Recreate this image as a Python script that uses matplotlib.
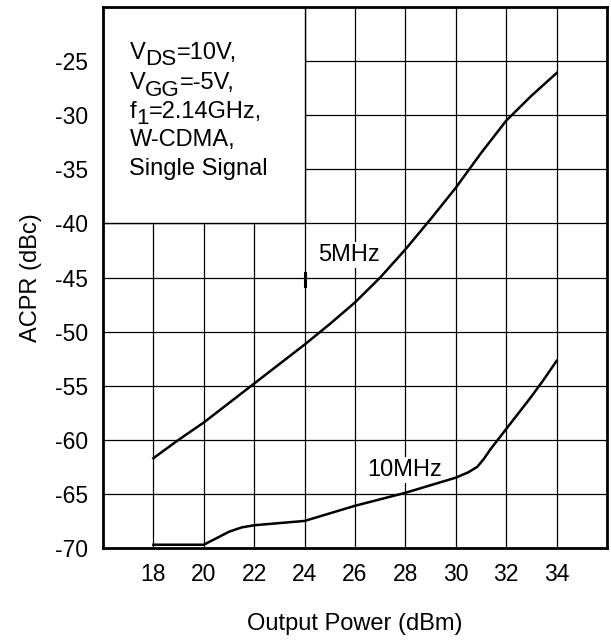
import matplotlib
matplotlib.use("Agg")
import matplotlib.pyplot as plt
from matplotlib.patches import Rectangle
from matplotlib.transforms import offset_copy

# ------------------------
# Data
# ------------------------
pout = [18, 19, 20, 21, 22, 23, 24, 25, 26, 27, 28, 29, 30, 31, 32, 33, 34]
acpr_5mhz = [-61.7, -60.0, -58.4, -56.6, -54.8, -53.0, -51.2, -49.3, -47.3,
             -45.0, -42.4, -39.6, -36.7, -33.5, -30.5, -28.2, -26.1]

pout_10 = [18, 19, 20, 20.5, 21, 21.5, 22, 23, 24, 25, 26, 27, 28, 29, 30,
           30.5, 30.85, 31.1, 31.4, 32, 32.5, 33, 33.5, 34]
acpr_10mhz = [-69.7, -69.7, -69.7, -69.1, -68.5, -68.1, -67.9, -67.7, -67.5,
              -66.8, -66.1, -65.5, -64.9, -64.2, -63.5, -63.0, -62.5, -61.8,
              -60.8, -59.0, -57.5, -56.0, -54.4, -52.7]

x_ticks = [18, 20, 22, 24, 26, 28, 30, 32, 34]
y_ticks = [-70, -65, -60, -55, -50, -45, -40, -35, -30, -25]

# (main, subscript, rest) for each condition line
conditions = [("V", "DS", "=10V,"), ("V", "GG", "=-5V,"),
              ("f", "1", "=2.14GHz,"), ("W-CDMA,", "", ""),
              ("Single Signal", "", "")]

# ------------------------
# Style
# ------------------------
plt.rcParams["font.family"] = ["Liberation Sans", "DejaVu Sans"]
plt.rcParams["axes.unicode_minus"] = False
FS = 17

fig = plt.figure(figsize=(6.11, 6.4), dpi=100)
ax = fig.add_axes([0.1686, 0.1438, 0.8249, 0.8452])

ax.set_xlim(16, 36)
ax.set_ylim(-70, -20)
ax.set_xticks(x_ticks)
ax.set_yticks(y_ticks)
ax.tick_params(length=0, labelsize=16.5, pad=11)
ax.grid(True, color="black", linewidth=0.9)
ax.set_axisbelow(True)
for s in ax.spines.values():
    s.set_linewidth(2.0)

ax.set_xlabel("Output Power (dBm)", fontsize=FS, labelpad=19)
ax.set_ylabel("ACPR (dBc)", fontsize=FS, labelpad=9)

# ------------------------
# Curves
# ------------------------
ax.plot(pout, acpr_5mhz, color="black", linewidth=1.8, zorder=3)
ax.plot(pout_10, acpr_10mhz, color="black", linewidth=1.8, zorder=3)

ax.text(25.75, -42.9, "5MHz", fontsize=FS, ha="center", va="center",
        bbox=dict(facecolor="white", edgecolor="none", pad=1.5), zorder=2)
ax.text(27.95, -62.8, "10MHz", fontsize=FS, ha="center", va="center",
        bbox=dict(facecolor="white", edgecolor="none", pad=1.5), zorder=2)

# small mark on the 24 gridline
ax.plot([24, 24], [-44.6, -45.8], color="black", linewidth=2.2, zorder=2)

# ------------------------
# Conditions box
# ------------------------
ax.add_patch(Rectangle((16, -40), 8, 20, facecolor="white",
                       edgecolor="black", linewidth=1.0, zorder=2))
y_txt = [-24.8, -27.6, -30.25, -32.8, -35.5]
fig.canvas.draw()
renderer = fig.canvas.get_renderer()
for (main, sub, rest), yy in zip(conditions, y_txt):
    t = ax.text(17.05, yy, main, fontsize=FS, ha="left", va="baseline",
                zorder=4)
    if not sub:
        continue
    w = t.get_window_extent(renderer).width
    tr = offset_copy(ax.transData, fig=fig, x=w, y=-6.5, units="dots")
    ts = ax.text(17.05, yy, sub, fontsize=FS * 0.95, ha="left",
                 va="baseline", transform=tr, zorder=4)
    w += ts.get_window_extent(renderer).width
    tr = offset_copy(ax.transData, fig=fig, x=w, y=0, units="dots")
    ax.text(17.05, yy, rest, fontsize=FS, ha="left", va="baseline",
            transform=tr, zorder=4)

fig.savefig("out.png", dpi=100)
